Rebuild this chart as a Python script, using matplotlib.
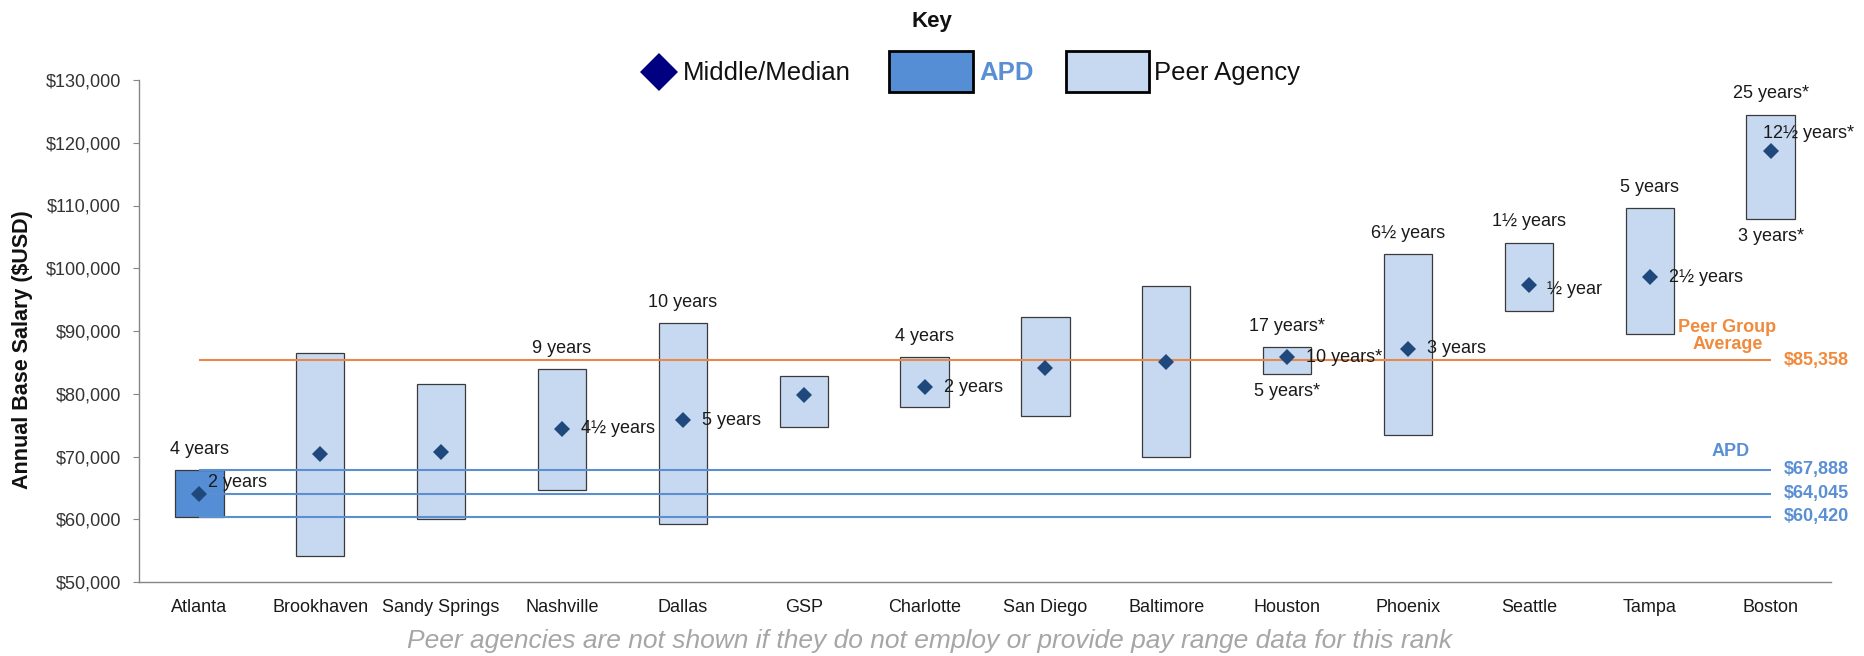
import numpy as np
import matplotlib
matplotlib.use("Agg")
import matplotlib.pyplot as plt
from matplotlib.patches import Rectangle
from matplotlib.lines import Line2D
from matplotlib.ticker import FuncFormatter

plt.rcParams["font.family"] = ["Liberation Sans", "DejaVu Sans"]

# data
categories = ["Atlanta", "Brookhaven", "Sandy Springs", "Nashville", "Dallas", "GSP", "Charlotte",
              "San Diego", "Baltimore", "Houston", "Phoenix", "Seattle", "Tampa", "Boston"]
range_min = [60420, 54100, 60000, 64600, 59300, 74700, 77900, 76500, 69900, 83200, 73500, 93200, 89500, 107900]
range_max = [67888, 86500, 81500, 83900, 91200, 82900, 85900, 92300, 97200, 87500, 102200, 104100, 109600, 124500]
median = [64045, 70350, 70750, 74400, 75800, 79800, 81050, 84100, 85000, 85800, 87150, 97300, 98600, 118750]

top_years = ["4 years", "", "", "9 years", "10 years", "", "4 years", "", "", "17 years*",
             "6½ years", "1½ years", "5 years", "25 years*"]
mid_years = ["2 years", "", "", "4½ years", "5 years", "", "2 years", "", "", "10 years*",
             "3 years", "½ year", "2½ years", "12½ years*"]
bottom_years = ["", "", "", "", "", "", "", "", "", "5 years*", "", "", "", "3 years*"]

peer_avg = 85358
apd_lines = [67888, 64045, 60420]

y_ticks = [50000, 60000, 70000, 80000, 90000, 100000, 110000, 120000, 130000]

# colours
PEER_FILL = "#C6D9F1"
APD_FILL = "#558ED5"
MED_COL = "#1F497D"
ORANGE_LINE = "#E8894A"
ORANGE_TXT = "#F08A3C"
BLUE_LINE = "#5B8FD0"
BLUE_TXT = "#5B8FD4"
TXT = "#1a1a1a"

W, H = 1864, 656
fig = plt.figure(figsize=(W / 100, H / 100), dpi=100)
ax = fig.add_axes([139 / W, 1 - 582 / H, (1831 - 139) / W, (582 - 80) / H])

x = np.arange(len(categories))
heights = np.array(range_max) - np.array(range_min)
fills = [APD_FILL] + [PEER_FILL] * (len(categories) - 1)
ax.bar(x, heights, bottom=range_min, width=0.4, color=fills, edgecolor="#3a3a3a", linewidth=0.9, zorder=2)

ax.hlines(peer_avg, 0, len(categories) - 1, color=ORANGE_LINE, lw=1.5, zorder=3)
ax.hlines(apd_lines, 0, len(categories) - 1, color=BLUE_LINE, lw=1.5, zorder=3)

ax.plot(x, median, "D", color=MED_COL, ms=8.5, mew=0, zorder=5)

# year labels; a few mid labels sit off their usual spot
mid_shift = {0: (6.5, 7.9), 11: (13, -2.9), 13: (-5.8, 12.2)}
for i in x:
    if top_years[i]:
        ax.annotate(top_years[i], (i, range_max[i]), xytext=(0, 14.8), textcoords="offset points",
                    ha="center", va="center", fontsize=13, color=TXT, zorder=6)
    if bottom_years[i]:
        ax.annotate(bottom_years[i], (i, range_min[i]), xytext=(0, -13), textcoords="offset points",
                    ha="center", va="center", fontsize=13, color=TXT, zorder=6)
    if mid_years[i]:
        dx, dy = mid_shift.get(i, (13.7, 0))
        ax.annotate(mid_years[i], (i, median[i]), xytext=(dx, dy), textcoords="offset points",
                    ha="left", va="center", fontsize=13, color=TXT, zorder=6)

# right-hand labels
last = len(categories) - 1
ax.annotate(f"${peer_avg:,}", (last, peer_avg), xytext=(9.5, 0), textcoords="offset points",
            ha="left", va="center", fontsize=13, fontweight="bold", color=ORANGE_TXT, annotation_clip=False)
ax.annotate("Peer Group\nAverage", (last, peer_avg), xytext=(-31, 17.5), textcoords="offset points",
            ha="center", va="center", fontsize=13, fontweight="bold", color=ORANGE_TXT,
            linespacing=1.0, annotation_clip=False)
for v in apd_lines:
    ax.annotate(f"${v:,}", (last, v), xytext=(9.5, 0), textcoords="offset points",
                ha="left", va="center", fontsize=13, fontweight="bold", color=BLUE_TXT, annotation_clip=False)
ax.annotate("APD", (last, apd_lines[0]), xytext=(-28.5, 13), textcoords="offset points",
            ha="center", va="center", fontsize=13, fontweight="bold", color=BLUE_TXT, annotation_clip=False)

ax.set_xlim(-0.5, len(categories) - 0.5)
ax.set_ylim(y_ticks[0], y_ticks[-1])
ax.set_yticks(y_ticks)
ax.yaxis.set_major_formatter(FuncFormatter(lambda v, p: f"${v:,.0f}"))
ax.set_xticks(x)
ax.set_xticklabels(categories)
ax.tick_params(axis="x", length=0, pad=12, labelsize=13, labelcolor=TXT)
ax.tick_params(axis="y", length=4, width=0.8, color="#868686", pad=9, labelsize=13, labelcolor="#333333")
for s in ["top", "right"]:
    ax.spines[s].set_visible(False)
for s in ["left", "bottom"]:
    ax.spines[s].set_color("#868686")
    ax.spines[s].set_linewidth(1.0)

fig.text(23 / W, 1 - 350 / H, "Annual Base Salary ($USD)", rotation=90, ha="center", va="center",
         fontsize=15.5, fontweight="bold", color="#111111")

# key / legend drawn by hand
def fx(px):
    return px / W

def fy(py):
    return 1 - py / H

fig.text(fx(932), fy(22), "Key", ha="center", va="center", fontsize=16, fontweight="bold", color="#111111")
fig.add_artist(Line2D([fx(659)], [fy(72)], marker="D", ms=19, color="#000080", mew=0,
                      transform=fig.transFigure))
fig.text(fx(683), fy(73), "Middle/Median", ha="left", va="center", fontsize=18.5, color="#111111")
fig.add_artist(Rectangle((fx(889), fy(92)), fx(84), 41 / H, facecolor=APD_FILL, edgecolor="black",
                         lw=2, transform=fig.transFigure))
fig.text(fx(979), fy(73), "APD", ha="left", va="center", fontsize=18.5, fontweight="bold", color=BLUE_TXT)
fig.add_artist(Rectangle((fx(1066), fy(92)), fx(83), 41 / H, facecolor=PEER_FILL, edgecolor="black",
                         lw=2, transform=fig.transFigure))
fig.text(fx(1154), fy(73), "Peer Agency", ha="left", va="center", fontsize=18.5, color="#111111")

fig.text(fx(930), fy(641), "Peer agencies are not shown if they do not employ or provide pay range data for this rank",
         ha="center", va="center", fontsize=19, style="italic", color="#A6A6A6")

fig.savefig("out.png", dpi=100, facecolor="white")
